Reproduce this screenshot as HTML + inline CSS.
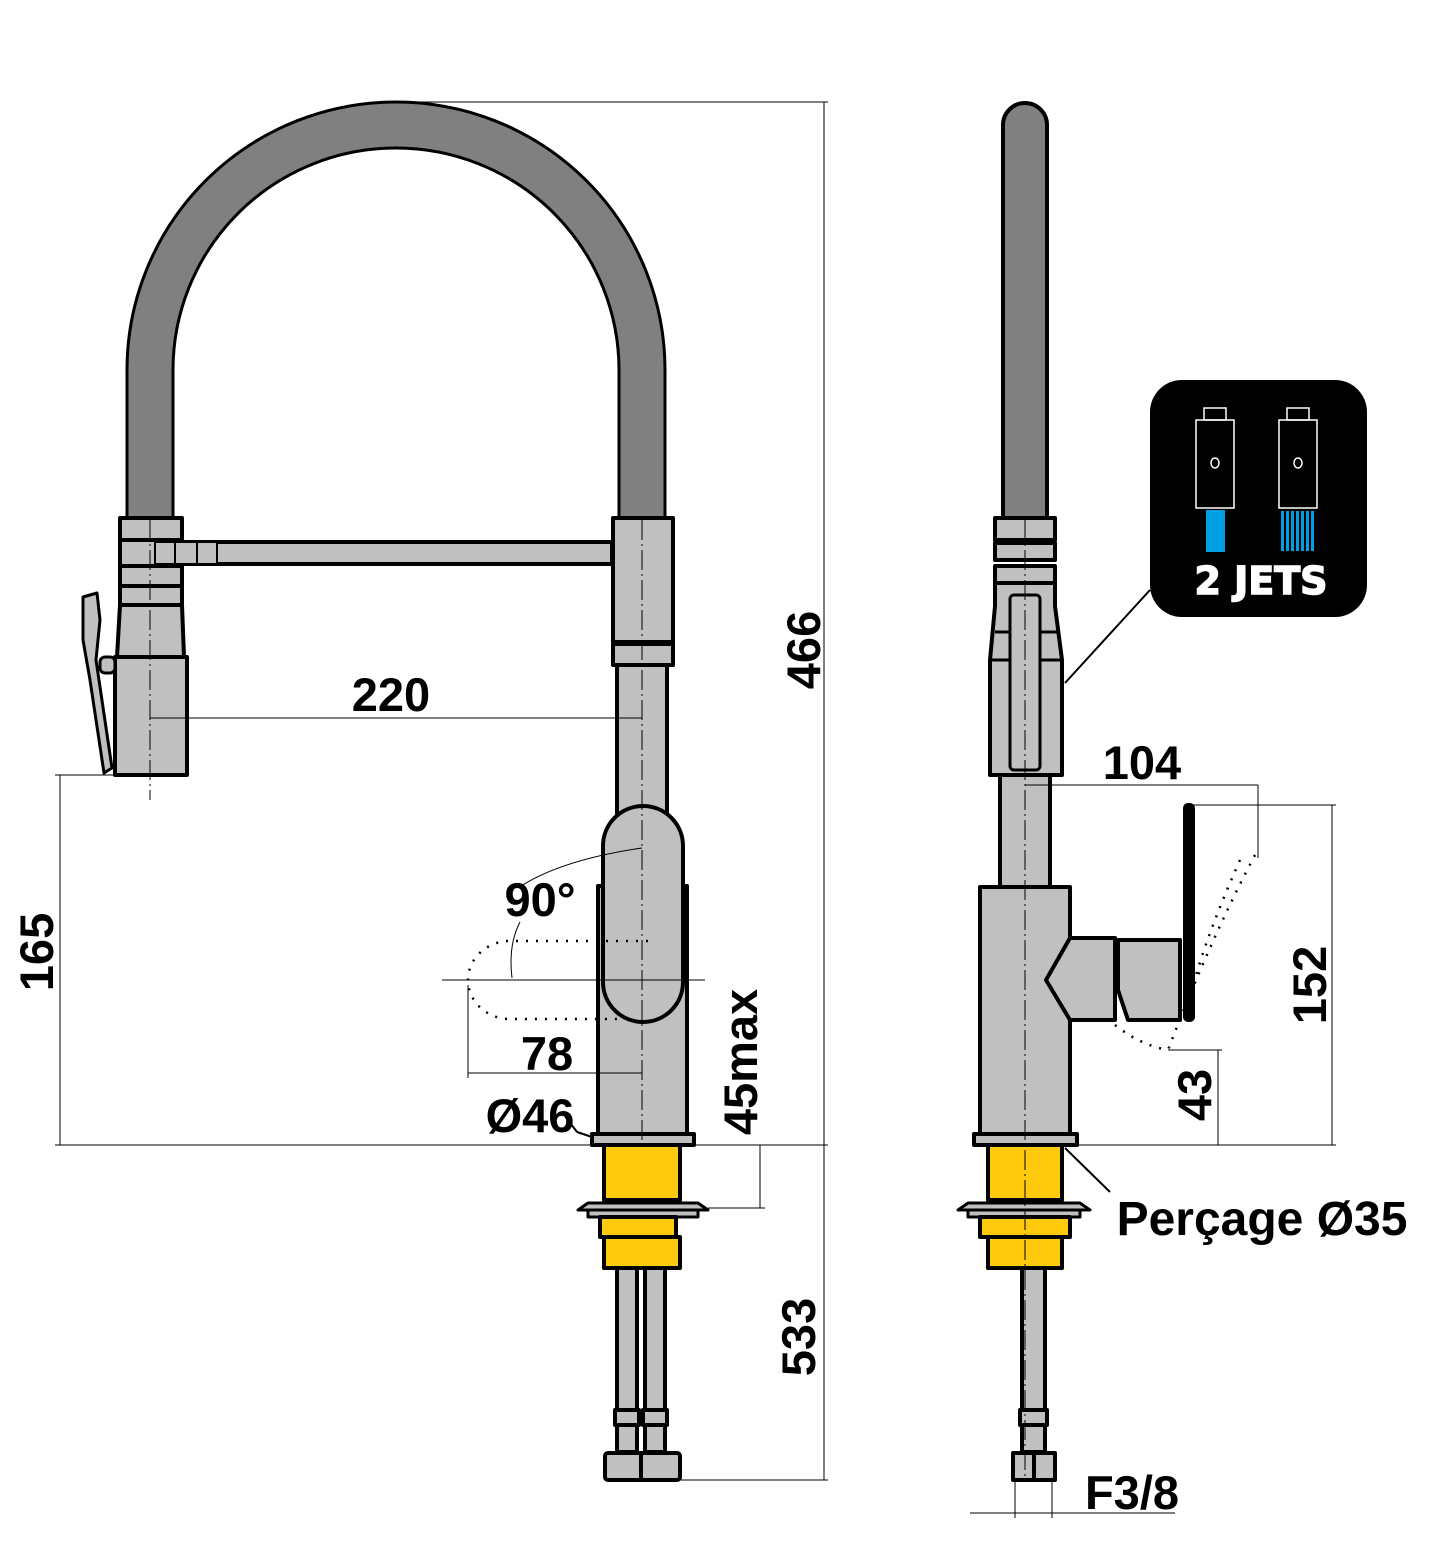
<!DOCTYPE html>
<html><head><meta charset="utf-8"><style>
html,body{margin:0;padding:0;background:#fff;}
svg{display:block;}
text{font-family:"Liberation Sans",Arial,sans-serif;font-weight:bold;fill:#000;}
</style></head><body>
<svg width="1440" height="1552" viewBox="0 0 1440 1552" xmlns="http://www.w3.org/2000/svg">
<g stroke="#000" stroke-width="4" stroke-linejoin="round">
<path d="M150 520 V370 A246 245 0 0 1 642 370 V520" fill="none" stroke="#000" stroke-width="49"/>
<path d="M150 522 V370 A246 245 0 0 1 642 370 V522" fill="none" stroke="#808080" stroke-width="43"/>
<rect x="120" y="518" width="62" height="22" fill="#c0c0c0"/>
<rect x="120" y="540" width="62" height="26" fill="#c0c0c0"/>
<rect x="120" y="566" width="62" height="20" fill="#c0c0c0"/>
<rect x="120" y="586" width="62" height="19" fill="#c0c0c0"/>
<path d="M120 605 H182 L184 657 H117 Z" fill="#c0c0c0"/>
<rect x="115" y="657" width="72" height="118" fill="#c0c0c0"/>
<rect x="182" y="542" width="430" height="22" fill="#c0c0c0"/>
<rect x="155" y="542" width="20" height="22" fill="#c0c0c0" stroke-width="2"/>
<rect x="175" y="542" width="22" height="22" fill="#c0c0c0" stroke-width="2"/>
<rect x="197" y="542" width="20" height="22" fill="#c0c0c0" stroke-width="2"/>
<path d="M83 597 L97 593 L100 620 L96 660 L112 768 L104 773 L90 680 L83 640 Z" fill="#c0c0c0" stroke-width="3"/>
<rect x="100" y="657" width="15" height="16" rx="5" fill="#c0c0c0" stroke-width="3"/>
<rect x="613" y="518" width="60" height="124" fill="#c0c0c0"/>
<rect x="613" y="644" width="60" height="21" fill="#c0c0c0"/>
<rect x="617" y="665" width="50" height="150" fill="#c0c0c0"/>
<rect x="598" y="886" width="89" height="249" fill="#c0c0c0"/>
<rect x="603" y="806" width="80" height="216" rx="40" fill="#c0c0c0"/>
<rect x="592" y="1134" width="102" height="11" fill="#c0c0c0"/>
<rect x="604" y="1145" width="76" height="55" fill="#ffc90e"/>
<path d="M578 1210 L588 1203 H698 L708 1210 Z" fill="#c0c0c0" stroke-width="3"/>
<rect x="588" y="1210" width="110" height="7" fill="#c0c0c0" stroke-width="3"/>
<rect x="600" y="1217" width="76" height="20" fill="#ffc90e"/>
<rect x="604" y="1237" width="76" height="31" fill="#ffc90e"/>
<rect x="617" y="1268" width="20" height="142" fill="#c0c0c0"/>
<rect x="645" y="1268" width="20" height="142" fill="#c0c0c0"/>
<rect x="615" y="1410" width="24" height="15" fill="#c0c0c0"/>
<rect x="643" y="1410" width="24" height="15" fill="#c0c0c0"/>
<rect x="617" y="1425" width="20" height="27" fill="#c0c0c0"/>
<rect x="645" y="1425" width="20" height="27" fill="#c0c0c0"/>
<rect x="605" y="1453" width="75" height="27" rx="3" fill="#c0c0c0"/>
<line x1="641" y1="1453" x2="641" y2="1480"/>

<path d="M1003 518 V125 A22 22 0 0 1 1047 125 V518 Z" fill="#808080"/>
<rect x="995" y="518" width="60" height="22" fill="#c0c0c0"/>
<rect x="995" y="543" width="60" height="17" fill="#c0c0c0"/>
<rect x="995" y="566" width="60" height="17" fill="#c0c0c0"/>
<path d="M995 583 H1055 V606 L1062 660 V775 H990 V660 L995 606 Z" fill="#c0c0c0"/>
<line x1="990" y1="660" x2="1062" y2="660" stroke-width="3"/>
<line x1="995" y1="632" x2="1058" y2="632" stroke-width="3"/>
<rect x="1010" y="595" width="30" height="175" rx="4" fill="#c0c0c0" stroke-width="3"/>
<rect x="1000" y="775" width="50" height="112" fill="#c0c0c0"/>
<rect x="980" y="887" width="90" height="248" fill="#c0c0c0"/>
<path d="M1070 938 H1115 V1020 H1070 L1046 980 Z" fill="#c0c0c0"/>
<path d="M1118 940 H1180 V1020 H1128 L1118 990 Z" fill="#c0c0c0"/>
<rect x="1185" y="805" width="8" height="215" rx="3" fill="#000"/>
<rect x="974" y="1134" width="103" height="11" fill="#c0c0c0"/>
<rect x="988" y="1145" width="74" height="55" fill="#ffc90e"/>
<path d="M958 1210 L968 1203 H1080 L1090 1210 Z" fill="#c0c0c0" stroke-width="3"/>
<rect x="968" y="1210" width="112" height="7" fill="#c0c0c0" stroke-width="3"/>
<rect x="980" y="1217" width="90" height="20" fill="#ffc90e"/>
<rect x="988" y="1237" width="74" height="31" fill="#ffc90e"/>
<rect x="1022" y="1268" width="23" height="142" fill="#c0c0c0"/>
<rect x="1020" y="1410" width="27" height="15" fill="#c0c0c0"/>
<rect x="1022" y="1425" width="23" height="27" fill="#c0c0c0"/>
<rect x="1013" y="1453" width="42" height="27" fill="#c0c0c0"/>
<line x1="1034" y1="1453" x2="1034" y2="1480"/>
</g>

<g fill="none" stroke="#000" stroke-width="2.5" stroke-dasharray="2 8">
<path d="M648 941 H510 A42 39 0 0 0 510 1019 H620"/>
<path d="M1255 855 Q1210 940 1168 1050"/>
<path d="M1240 860 Q1200 950 1190 1000"/>
<path d="M1115 1025 Q1140 1045 1168 1050"/>
</g>

<g stroke="#000" stroke-width="1" fill="none">
<line x1="150" y1="520" x2="150" y2="800" stroke-dasharray="20 4 2 4"/>
<line x1="642" y1="520" x2="642" y2="1150" stroke-dasharray="20 4 2 4"/>
<line x1="1025" y1="520" x2="1025" y2="1480" stroke-dasharray="20 4 2 4"/>
<line x1="397" y1="102" x2="828" y2="102"/>
<line x1="824" y1="102" x2="824" y2="1480"/>
<line x1="55" y1="1145" x2="828" y2="1145"/>
<line x1="680" y1="1480" x2="828" y2="1480"/>
<line x1="55" y1="775" x2="115" y2="775"/>
<line x1="60" y1="775" x2="60" y2="1145"/>
<line x1="150" y1="718" x2="642" y2="718"/>
<line x1="708" y1="1208" x2="765" y2="1208"/>
<line x1="760" y1="1145" x2="760" y2="1208"/>
<line x1="468" y1="1073" x2="642" y2="1073"/>
<line x1="468" y1="985" x2="468" y2="1078"/>
<line x1="442" y1="980" x2="705" y2="980"/>
<path d="M642 848 Q560 860 518 888"/>
<path d="M520 922 Q508 945 512 978"/>
<line x1="1025" y1="785" x2="1258" y2="785"/>
<line x1="1258" y1="785" x2="1258" y2="858"/>
<line x1="1193" y1="805" x2="1336" y2="805"/>
<line x1="1332" y1="805" x2="1332" y2="1145"/>
<line x1="1077" y1="1145" x2="1336" y2="1145"/>
<line x1="1168" y1="1050" x2="1222" y2="1050"/>
<line x1="1218" y1="1050" x2="1218" y2="1145"/>
<line x1="970" y1="1513" x2="1175" y2="1513"/>
<line x1="1015" y1="1480" x2="1015" y2="1518"/>
<line x1="1052" y1="1480" x2="1052" y2="1518"/>
</g>
<g stroke="#000" stroke-width="2">
<line x1="577" y1="1132" x2="592" y2="1137"/>
<line x1="562" y1="1112" x2="577" y2="1132"/>
<line x1="1065" y1="1148" x2="1110" y2="1192"/>
<line x1="1150" y1="590" x2="1065" y2="683"/>
</g>

<text x="391" y="711" font-size="47" text-anchor="middle">220</text>
<text x="540" y="916" font-size="47" text-anchor="middle">90°</text>
<text x="547" y="1070" font-size="47" text-anchor="middle">78</text>
<text x="530" y="1132" font-size="47" text-anchor="middle">Ø46</text>
<text transform="translate(820,650) rotate(-90)" font-size="47" text-anchor="middle">466</text>
<text transform="translate(815,1337) rotate(-90)" font-size="47" text-anchor="middle">533</text>
<text transform="translate(53,952) rotate(-90)" font-size="47" text-anchor="middle">165</text>
<text transform="translate(757,1062) rotate(-90)" font-size="47" text-anchor="middle">45max</text>
<text x="1142" y="779" font-size="47" text-anchor="middle">104</text>
<text transform="translate(1326,985) rotate(-90)" font-size="47" text-anchor="middle">152</text>
<text transform="translate(1211,1095) rotate(-90)" font-size="47" text-anchor="middle">43</text>
<text x="1262" y="1235" font-size="48" text-anchor="middle">Perçage Ø35</text>
<text x="1132" y="1509" font-size="47" text-anchor="middle">F3/8</text>

<rect x="1150" y="380" width="217" height="237" rx="32" fill="#000"/>
<g fill="none" stroke="#fff" stroke-width="1.5">
<rect x="1196" y="420" width="38" height="88"/>
<rect x="1204" y="408" width="22" height="12"/>
<ellipse cx="1215" cy="463" rx="4" ry="5"/>
<rect x="1279" y="420" width="38" height="88"/>
<rect x="1287" y="408" width="22" height="12"/>
<ellipse cx="1298" cy="463" rx="4" ry="5"/>
</g>
<rect x="1206" y="510" width="19" height="42" fill="#009fe3"/>
<g fill="#009fe3">
<rect x="1281" y="511" width="3" height="40"/><rect x="1286" y="511" width="3" height="40"/>
<rect x="1291" y="511" width="3" height="40"/><rect x="1296" y="511" width="3" height="40"/>
<rect x="1301" y="511" width="3" height="40"/><rect x="1306" y="511" width="3" height="40"/>
<rect x="1311" y="511" width="3" height="40"/>
</g>
<text x="1261" y="594" font-size="38" text-anchor="middle" style="fill:#fff;font-family:'DejaVu Sans','Liberation Sans',sans-serif;font-weight:bold" stroke="#fff" stroke-width="1.5">2 JETS</text>
</svg>
</body></html>
